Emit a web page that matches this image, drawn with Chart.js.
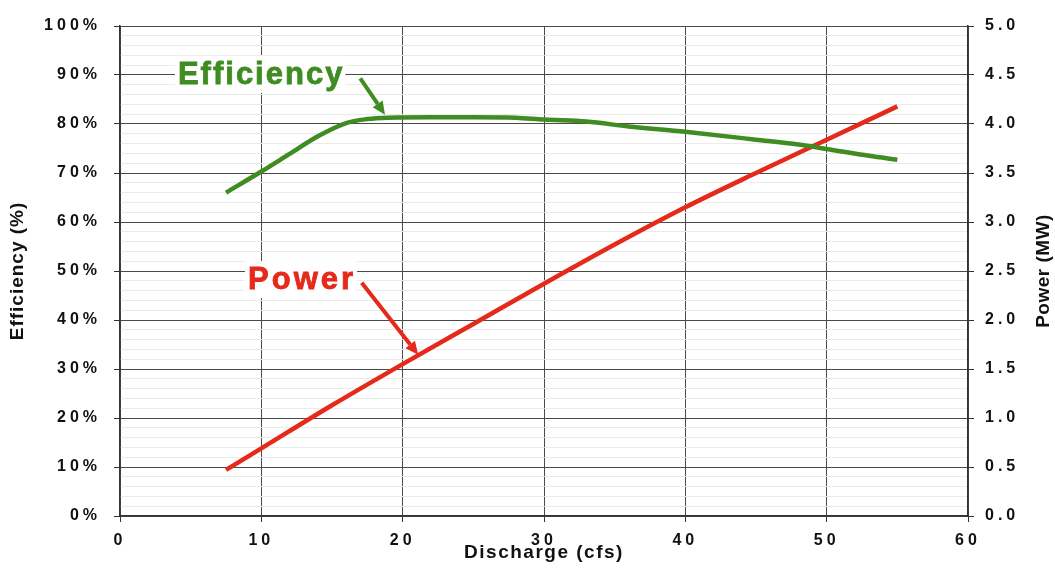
<!DOCTYPE html>
<html>
<head>
<meta charset="utf-8">
<script src="https://cdn.jsdelivr.net/npm/chart.js@4"></script>
<style>
    html, body { margin: 0; padding: 0; background: #fff; }
    #wrap { width: 1055px; height: 569px; position: relative; }
</style>
</head>
<body>
<div id="wrap"><canvas id="chart"></canvas></div>
<script>
// Efficiency curve (discharge in cfs, efficiency in %)
const effFlow = [7.5, 10, 12, 14, 16, 17.5, 19, 22, 25, 28, 30, 33, 36, 40, 45, 48, 50, 53, 55];
const effValues = [66.0, 70.3, 73.9, 77.5, 80.2, 81.0, 81.3, 81.4, 81.4, 81.3, 80.9, 80.5, 79.5, 78.4, 76.8, 75.8, 74.9, 73.5, 72.7];

// Power curve (discharge in cfs, power in MW)
const powFlow = [7.5, 10, 15, 20, 25, 30, 35, 40, 45, 50, 55];
const powValues = [0.47, 0.69, 1.13, 1.55, 1.96, 2.37, 2.77, 3.15, 3.50, 3.84, 4.18];

const GREEN = '#3f8c22';
const RED = '#e5291a';
const GRID_MAJOR = '#4a4a4a';
const GRID_MINOR = '#ebebeb';

// labels with arrows, placed in data units (x: cfs, y: efficiency %)
const notes = [
    { text: 'Efficiency', color: GREEN, x: 4.1, y: 88.2, spacing: 2, from: [17.0, 89.3], to: [18.75, 81.9] },
    { text: 'Power', color: RED, x: 9.06, y: 46.3, spacing: 3, from: [17.1, 47.6], to: [21.1, 32.9] }
];

const spacingPlugin = {
    id: 'spacing',
    beforeLayout(chart) { chart.ctx.letterSpacing = '4px'; },
    beforeDraw(chart) { chart.ctx.letterSpacing = '4px'; }
};

function drawArrow(ctx, x1, y1, x2, y2, color) {
    const ang = Math.atan2(y2 - y1, x2 - x1);
    const headLen = 13, headW = 6;
    const bx = x2 - headLen * Math.cos(ang), by = y2 - headLen * Math.sin(ang);
    ctx.strokeStyle = color;
    ctx.fillStyle = color;
    ctx.lineWidth = 4;
    ctx.beginPath();
    ctx.moveTo(x1, y1);
    ctx.lineTo(bx, by);
    ctx.stroke();
    ctx.beginPath();
    ctx.moveTo(x2, y2);
    ctx.lineTo(bx + headW * Math.sin(ang), by - headW * Math.cos(ang));
    ctx.lineTo(bx - headW * Math.sin(ang), by + headW * Math.cos(ang));
    ctx.closePath();
    ctx.fill();
}

const notesPlugin = {
    id: 'notes',
    afterDraw(chart) {
        const ctx = chart.ctx;
        const xs = chart.scales.x, ys = chart.scales.y;
        ctx.save();
        notes.forEach(n => {
            ctx.letterSpacing = n.spacing + 'px';
            ctx.font = 'bold 31px "Liberation Sans", Arial, sans-serif';
            ctx.textBaseline = 'alphabetic';
            ctx.textAlign = 'left';
            const tx = xs.getPixelForValue(n.x), ty = ys.getPixelForValue(n.y);
            const w = ctx.measureText(n.text).width;
            ctx.fillStyle = '#fff';
            ctx.fillRect(tx - 3, ty - 28, w + 4, 37);
            ctx.fillStyle = n.color;
            ctx.strokeStyle = n.color;
            ctx.lineWidth = 0.8;
            ctx.fillText(n.text, tx, ty);
            ctx.strokeText(n.text, tx, ty);
            drawArrow(ctx, xs.getPixelForValue(n.from[0]), ys.getPixelForValue(n.from[1]),
                xs.getPixelForValue(n.to[0]), ys.getPixelForValue(n.to[1]), n.color);
        });

        // axis titles
        ctx.fillStyle = '#111';
        ctx.font = 'bold 19px "Liberation Sans", Arial, sans-serif';
        ctx.textAlign = 'center';
        ctx.textBaseline = 'middle';
        const midY = (chart.chartArea.top + chart.chartArea.bottom) / 2;

        ctx.letterSpacing = '1.5px';
        ctx.fillText('Discharge (cfs)', (chart.chartArea.left + chart.chartArea.right) / 2, 553);

        ctx.save();
        ctx.letterSpacing = '1px';
        ctx.translate(18, midY);
        ctx.rotate(-Math.PI / 2);
        ctx.fillText('Efficiency (%)', 0, 0);
        ctx.restore();

        ctx.save();
        ctx.letterSpacing = '0.5px';
        ctx.translate(1044, midY);
        ctx.rotate(-Math.PI / 2);
        ctx.fillText('Power (MW)', 0, 0);
        ctx.restore();

        ctx.restore();
    }
};

const tickFont = { family: '"Liberation Sans", Arial, sans-serif', size: 16, weight: 'bold' };

new Chart(document.getElementById('chart').getContext('2d'), {
    type: 'line',
    data: {
        datasets: [
            {
                label: 'Efficiency',
                data: effFlow.map((q, i) => ({ x: q, y: effValues[i] })),
                borderColor: GREEN,
                borderWidth: 4.5,
                pointRadius: 0,
                cubicInterpolationMode: 'monotone',
                yAxisID: 'y'
            },
            {
                label: 'Power',
                data: powFlow.map((q, i) => ({ x: q, y: powValues[i] })),
                borderColor: RED,
                borderWidth: 4.5,
                pointRadius: 0,
                cubicInterpolationMode: 'monotone',
                yAxisID: 'y1'
            }
        ]
    },
    options: {
        responsive: true,
        maintainAspectRatio: false,
        animation: false,
        layout: { padding: { top: 26, left: 0, right: 0, bottom: 0 } },
        plugins: { legend: { display: false }, tooltip: { enabled: false } },
        scales: {
            x: {
                type: 'linear',
                min: 0,
                max: 60,
                ticks: { stepSize: 10, font: tickFont, color: '#111', padding: 9, maxRotation: 0 },
                grid: { color: GRID_MAJOR, lineWidth: 1, tickLength: 6, tickColor: '#333' },
                border: { color: '#333', width: 1.5 },
                afterFit: s => { s.height = 53; }
            },
            y: {
                position: 'left',
                min: 0,
                max: 100,
                ticks: {
                    stepSize: 2,
                    autoSkip: false,
                    font: tickFont,
                    color: '#111',
                    padding: 13,
                    callback: v => (v % 10 === 0 ? v + '%' : '')
                },
                grid: {
                    color: c => (c.tick && c.tick.value % 10 === 0 ? GRID_MAJOR : GRID_MINOR),
                    tickColor: c => (c.tick && c.tick.value % 10 === 0 ? '#333' : 'rgba(0,0,0,0)'),
                    lineWidth: 1,
                    tickLength: 6
                },
                border: { color: '#333', width: 1.5 },
                afterFit: s => { s.width = 120; }
            },
            y1: {
                position: 'right',
                min: 0,
                max: 5,
                ticks: {
                    stepSize: 0.5,
                    font: tickFont,
                    color: '#111',
                    padding: 11,
                    callback: v => v.toFixed(1)
                },
                grid: { drawOnChartArea: false, tickLength: 6, tickColor: '#333' },
                border: { color: '#333', width: 1.5 },
                afterFit: s => { s.width = 87; }
            }
        }
    },
    plugins: [spacingPlugin, notesPlugin]
});
</script>
</body>
</html>
